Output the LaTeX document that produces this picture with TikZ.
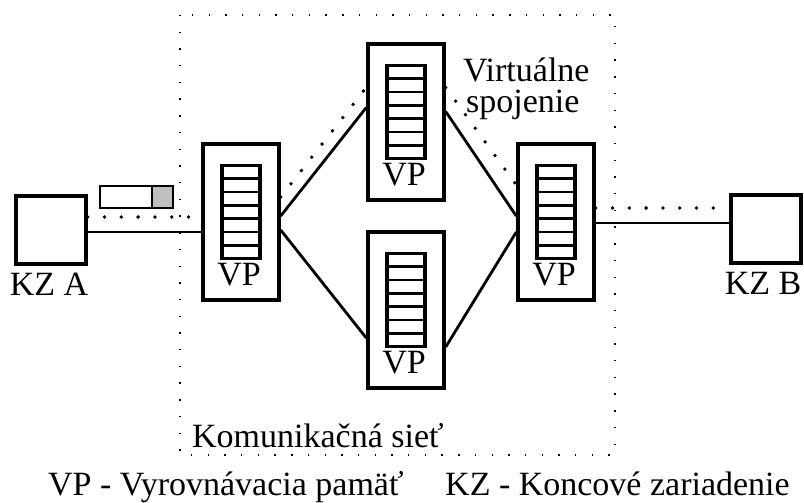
\documentclass[tikz,border=0pt]{standalone}
\usepackage{fontspec}
\setmainfont{Liberation Serif}
\usetikzlibrary{positioning,calc}

\tikzset{
	vpbox/.style={shape=rectangle, draw, line width=3.4pt, fill=white, inner sep=0pt,
		minimum width=76pt, minimum height=156pt},
	kzbox/.style={shape=rectangle, draw, line width=3.4pt, fill=white, inner sep=0pt,
		minimum width=70pt, minimum height=68pt},
	link/.style={line width=2.8pt},
	virt/.style={line width=3.8pt, line cap=round, dash pattern=on 0pt off 16.8pt},
	netline/.style={line width=1.4pt, dash pattern=on 1.4pt off 15.3pt},
	lbl/.style={inner sep=0pt, font=\fontsize{34pt}{36pt}\selectfont},
}

\begin{document}
\begin{tikzpicture}[x=1pt, y=-1pt]
	\useasboundingbox (0,0) rectangle (804,503);
	% komunikacna siet
	\draw[netline] (180,15) rectangle (615,455);
	\path (51,230) node (kza) [kzbox] {}
		  (766,229) node (kzb) [kzbox] {}
		  (241,222) node (vp1) [vpbox] {}
		  (406,122) node (vp2) [vpbox] {}
		  (556,222) node (vp3) [vpbox] {}
		  (406,310) node (vp4) [vpbox] {};
	\node (kzalbl) [lbl, below=7pt of kza, xshift=-2pt] {KZ A};
	\node (kzblbl) [lbl, below=7pt of kzb, xshift=-3pt] {KZ B};
	% fronty vo VP
	\foreach \b in {vp1,vp2,vp3,vp4} {
		\draw[line width=3.2pt] ($(\b.center)+(-19,-56.5)$) rectangle ($(\b.center)+(19,36.5)$);
		\foreach \i in {1,...,6}
			\draw[line width=2.8pt] ($(\b.center)+(-19,-56.5+\i*13.29)$) -- ++(38,0);
		\node (\b-txt) [lbl, anchor=base] at ($(\b.center)+(-2,63)$) {VP};
	}
	% paket
	\node (pkt) [draw, line width=2.8pt, fill=white, inner sep=0pt, minimum width=73pt, minimum height=22pt] at (136.5,197) {};
	\node (pkthead) [draw, line width=2.8pt, fill=black!25, inner sep=0pt, minimum width=21pt, minimum height=22pt, anchor=east] at (pkt.east) {};
	% spojenia
	\draw[link] ([yshift=-2pt]kza.east) -- ([yshift=-2pt]kza.east -| vp1.west);
	\draw[link] ([yshift=6pt]vp1.east) -- ([yshift=14.5pt]vp2.west);
	\draw[link] ([yshift=-8pt]vp1.east) -- ([yshift=-28pt]vp4.west);
	\draw[link] ([yshift=10.5pt]vp2.east) -- ([yshift=6pt]vp3.west);
	\draw[link] ([yshift=-37pt]vp4.east) -- ([yshift=-10pt]vp3.west);
	\draw[link] ([yshift=-1pt]vp3.east) -- ([yshift=-1pt]vp3.east -| kzb.west);
	% virtualne spojenie
	\draw[virt] ([yshift=13pt]kza.east) -- ([yshift=13pt]kza.east -| vp1.west);
	\draw[virt] ([yshift=25pt]vp1.east) -- ([yshift=34.5pt]vp2.west);
	\draw[virt] ([yshift=34.5pt]vp2.east) -- ([yshift=37pt]vp3.west);
	\draw[virt] ([yshift=14pt]vp3.east) -- ([yshift=14pt]vp3.east -| kzb.west);
	\node (virt1) [lbl, anchor=base west] at (463,82) {Virtuálne};
	\node (virt2) [lbl, anchor=base west] at (466,113) {spojenie};
	\node (net) [lbl, anchor=base west] at (192,447) {Komunikačná sieť};
	% legenda
	\node (leg1) [lbl, anchor=base west] at (48,495) {VP - Vyrovnávacia pamäť};
	\node (leg2) [lbl, anchor=base west] at (445,495) {KZ - Koncové zariadenie};
\end{tikzpicture}
\end{document}
